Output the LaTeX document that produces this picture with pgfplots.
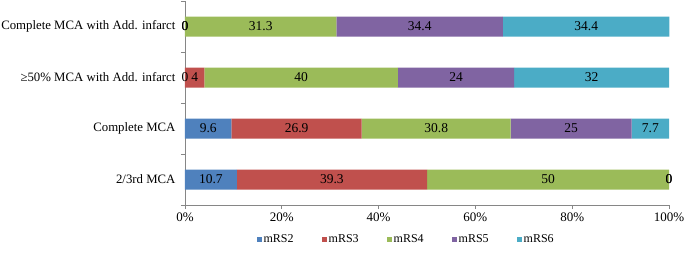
\documentclass[border=0pt]{standalone}
\usepackage{pgfplots}
\usepackage{pgfplotstable}
\pgfplotsset{compat=1.18}
\usepackage{fontspec}
\setmainfont{Liberation Serif}
\definecolor{c2}{HTML}{4F81BD}
\definecolor{c3}{HTML}{C0504D}
\definecolor{c4}{HTML}{9BBB59}
\definecolor{c5}{HTML}{8064A2}
\definecolor{c6}{HTML}{4BACC6}
\definecolor{axgray}{HTML}{868686}
\pgfplotstableread{
y  m2   m3   m4   m5   m6
0  10.7 39.3 50   0    0
1  9.6  26.9 30.8 25   7.7
2  0    4    40   24   32
3  0    0    31.3 34.4 34.4
}\data
\pgfplotsset{common/.style={
  at={(0,0)}, anchor=south west,
  x=4.84pt, y=51pt,
  xmin=0, xmax=100, ymin=-0.5, ymax=3.5, clip=false}}
\begin{document}
\begin{tikzpicture}
\useasboundingbox (-185pt,-53pt) rectangle (500pt,205pt);
\begin{axis}[
  common,
  xbar stacked, bar width=20pt,
  axis x line*=bottom, axis y line*=left,
  axis line style={draw=axgray, line width=0.8pt},
  tick style={draw=axgray, line width=0.8pt},
  tick align=outside, major tick length=4pt,
  xtick={0,20,...,100},
  xticklabel={\pgfmathprintnumber{\tick}\%},
  /pgf/number format/assume math mode=true,
  ytick={-0.5,0.5,1.5,2.5,3.5}, yticklabels={},
  extra y ticks={0,1,2,3},
  extra y tick labels={2/3rd MCA, Complete MCA, ≥50\% MCA with Add. infarct, Complete MCA with Add. infarct},
  extra y tick style={tick style={draw=none}, yticklabel style={xshift=-2pt, font=\fontsize{12.8}{15}\selectfont}},
  tick label style={font=\fontsize{13}{15}\selectfont},
  legend style={at={(axis description cs:0.457,-0.167)}, anchor=center, legend columns=5, draw=none, font=\fontsize{12}{13}\selectfont,
    /tikz/every even column/.append style={column sep=26pt}},
  legend image code/.code={\fill[#1] (0pt,-2.5pt) rectangle (5pt,2.5pt);},
]
\addplot[fill=c2, draw=none] table[x=m2, y=y] {\data};
\addplot[fill=c3, draw=none] table[x=m3, y=y] {\data};
\addplot[fill=c4, draw=none] table[x=m4, y=y] {\data};
\addplot[fill=c5, draw=none] table[x=m5, y=y] {\data};
\addplot[fill=c6, draw=none] table[x=m6, y=y] {\data};
\legend{mRS2,mRS3,mRS4,mRS5,mRS6}
\end{axis}
\begin{axis}[
  common, hide axis,
  nodes near coords, point meta=explicit,
  /pgf/number format/assume math mode=true,
  every node near coord/.style={anchor=center, font=\fontsize{13.5}{15}\selectfont, text=black, inner sep=0pt},
]
\addplot[draw=none] table[x expr=\thisrow{m2}/2, y=y, meta=m2] {\data};
\addplot[draw=none] table[x expr=\thisrow{m2}+\thisrow{m3}/2, y=y, meta=m3] {\data};
\addplot[draw=none] table[x expr=\thisrow{m2}+\thisrow{m3}+\thisrow{m4}/2, y=y, meta=m4] {\data};
\addplot[draw=none] table[x expr=\thisrow{m2}+\thisrow{m3}+\thisrow{m4}+\thisrow{m5}/2, y=y, meta=m5] {\data};
\addplot[draw=none] table[x expr=\thisrow{m2}+\thisrow{m3}+\thisrow{m4}+\thisrow{m5}+\thisrow{m6}/2, y=y, meta=m6] {\data};
\end{axis}
\end{tikzpicture}
\end{document}
